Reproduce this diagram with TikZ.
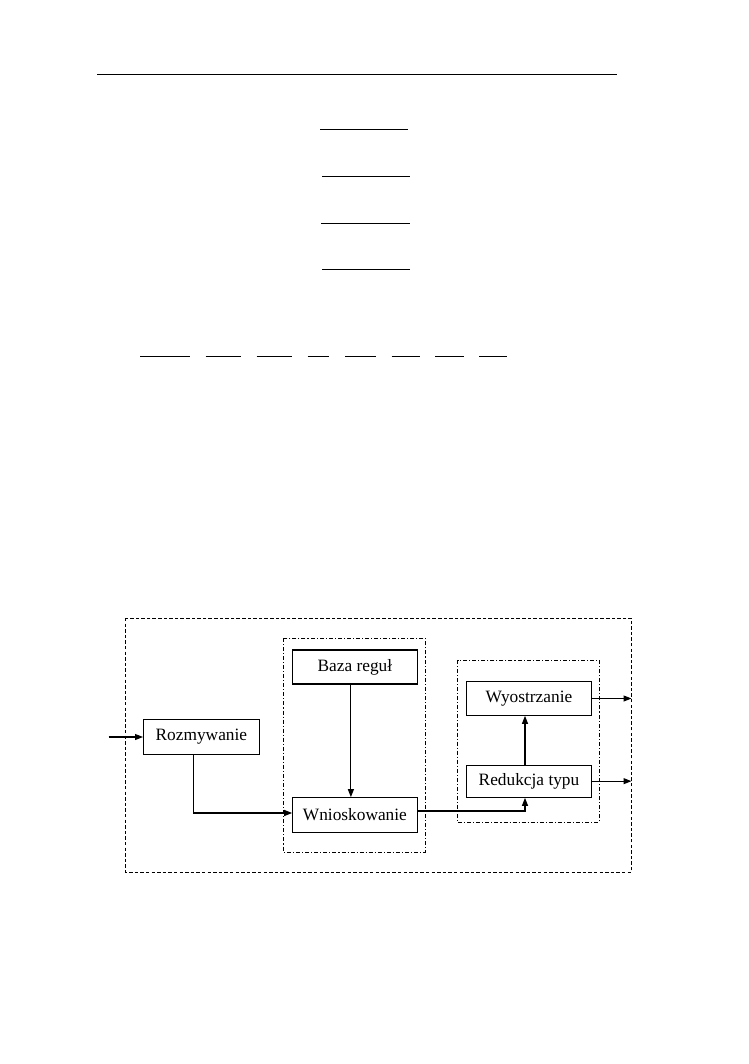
\documentclass[tikz,border=0pt]{standalone}
\usepackage{fontspec}
\setmainfont{Liberation Serif}
\usetikzlibrary{positioning,arrows.meta}

\begin{document}
\begin{tikzpicture}[x=0.75pt, y=-0.75pt, thick, >={Triangle[length=6pt, width=4.5pt]},
        block/.style={draw, rectangle, inner sep=0pt, minimum width=93.3pt, minimum height=25.5pt, font=\fontsize{13}{15}\selectfont},
        outerframe/.style={line width=0.7pt, dash pattern=on 2.6pt off 1.6pt},
        innerframe/.style={line width=0.6pt, dash pattern=on 3pt off 1.5pt on 0.8pt off 1.5pt}]
        \useasboundingbox (0,0) rectangle (749,1064);

        % page rules above the figure
        \draw (97,74.3) -- (617,74.3);
        \draw (320,129.3) -- (408,129.3);
        \draw (322,176.3) -- (410,176.3);
        \draw (321,223.3) -- (410,223.3);
        \draw (322,269.3) -- (410,269.3);
        \foreach \a/\b in {140/190, 205.5/240.5, 256.5/292, 307.5/329, 345/376, 391.5/419.5, 435/463.5, 479/507}
            \draw (\a,356.5) -- (\b,356.5);

        % frames
        \draw[outerframe] (125.5,618) rectangle (631.5,872);
        \draw[innerframe] (283.5,638) rectangle (425,852);
        \draw[innerframe] (457.5,660) rectangle (599,822.5);

        \node[block] (baza) at (354.9,667) {Baza reguł};
        \node[block, below of=baza, node distance=111pt, minimum height=26pt] (wnio) {Wnioskowanie};
        \node[block, minimum width=86.8pt, minimum height=26.5pt] (rozm) at (201.4,737) {Rozmywanie};
        \node[block, minimum height=25.2pt] (wyo) at (529,698.5) {Wyostrzanie};
        \node[block, below of=wyo, node distance=62pt, minimum height=24.2pt] (red) {Redukcja typu};

        \coordinate (in) at (108.5,737);
        \coordinate (edge) at (631.5,737);

        \draw[->] (in) -- (rozm);
        \draw[->] ([xshift=-6pt]rozm.south) |- ([yshift=1.5pt]wnio.west);
        \draw[->] ([xshift=-3pt]baza.south) -- ([xshift=-3pt]wnio.north);
        \draw[->] ([yshift=3pt]wnio.east) -| ([xshift=-3pt]red.south);
        \draw[->] ([xshift=-3pt]red.north) -- ([xshift=-3pt]wyo.south);
        \draw[->] (wyo.east) -- (wyo.east -| edge);
        \draw[->] (red.east) -- (red.east -| edge);
    \end{tikzpicture}
\end{document}
